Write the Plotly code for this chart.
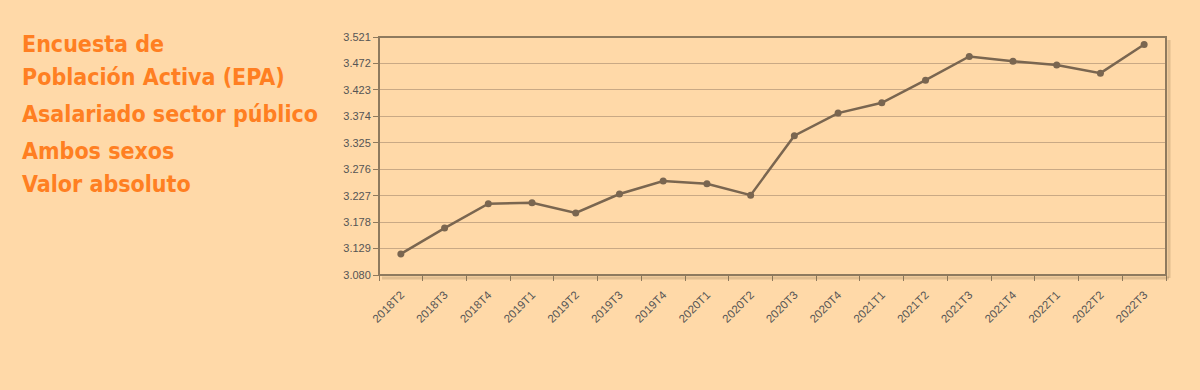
import plotly.graph_objects as go

categories = ["2018T2", "2018T3", "2018T4", "2019T1", "2019T2", "2019T3", "2019T4",
              "2020T1", "2020T2", "2020T3", "2020T4", "2021T1", "2021T2", "2021T3",
              "2021T4", "2022T1", "2022T2", "2022T3"]
values = [3119, 3167, 3212, 3214, 3195, 3230, 3254, 3249, 3228, 3338, 3380, 3399,
          3441, 3485, 3476, 3469, 3454, 3507]
y_tickvals = [3080, 3129, 3178, 3227, 3276, 3325, 3374, 3423, 3472, 3521]
y_ticktext = ["3.080", "3.129", "3.178", "3.227", "3.276", "3.325", "3.374", "3.423", "3.472", "3.521"]
title_lines = ["Encuesta de", "Población Activa (EPA)", "Asalariado sector público",
               "Ambos sexos", "Valor absoluto"]

BG = "#FFD9A8"
LINE = "#7A6650"
FRAME = "#8E7A5E"
GRID = "#C9A985"
ORANGE = "#FF7F22"

W, H = 1200, 390
L, R, T, B = 379, 34, 37, 115
pw, ph = W - L - R, H - T - B

fig = go.Figure()
fig.add_trace(go.Scatter(
    x=categories, y=values, mode="lines+markers",
    line=dict(color=LINE, width=2.5),
    marker=dict(color=LINE, size=7),
    hoverinfo="x+y",
))

# frame shadow on right and bottom edges
dx, dy = 3 / pw, 3 / ph
shadow = dict(color="rgba(120,95,60,0.22)", width=3)
fig.add_shape(type="line", xref="paper", yref="paper",
              x0=dx, x1=1 + dx, y0=-dy, y1=-dy, line=shadow)
fig.add_shape(type="line", xref="paper", yref="paper",
              x0=1 + dx, x1=1 + dx, y0=-dy, y1=1 - dy, line=shadow)
fig.add_shape(type="rect", xref="paper", yref="paper",
              x0=0, x1=1, y0=0, y1=1,
              line=dict(color=FRAME, width=2),
              fillcolor="rgba(0,0,0,0)", layer="above")

title_tops = [35, 68, 105, 142, 175]
for txt, top in zip(title_lines, title_tops):
    fig.add_annotation(
        text="<b>" + txt + "</b>", xref="paper", yref="paper",
        x=(20 - L) / pw, y=1 - (top - 6 - T) / ph,
        xanchor="left", yanchor="top", showarrow=False,
        font=dict(family="DejaVu Sans Condensed, Liberation Sans Narrow, sans-serif",
                  size=23, color=ORANGE, weight="bold"),
    )

fig.update_layout(
    width=W, height=H,
    margin=dict(l=L, r=R, t=T, b=B),
    paper_bgcolor=BG, plot_bgcolor=BG,
    showlegend=False,
    font=dict(family="Liberation Sans, Arial, sans-serif", size=11, color="#555555"),
)
fig.update_xaxes(
    type="category", range=[-0.5, len(categories) - 0.5],
    tickangle=-45, tickson="boundaries",
    ticks="outside", ticklen=5, tickcolor=FRAME, tickwidth=1,
    ticklabelstandoff=10,
    showgrid=False, zeroline=False, showline=False,
    tickfont=dict(size=11.5, color="#555555"),
)
fig.update_yaxes(
    range=[3080, 3521], tickvals=y_tickvals, ticktext=y_ticktext,
    ticks="outside", ticklen=5, tickcolor=FRAME, tickwidth=1,
    showgrid=True, gridcolor=GRID, gridwidth=1,
    zeroline=False, showline=False,
    tickfont=dict(size=11, color="#555555"),
)

fig.write_html("out.html")
